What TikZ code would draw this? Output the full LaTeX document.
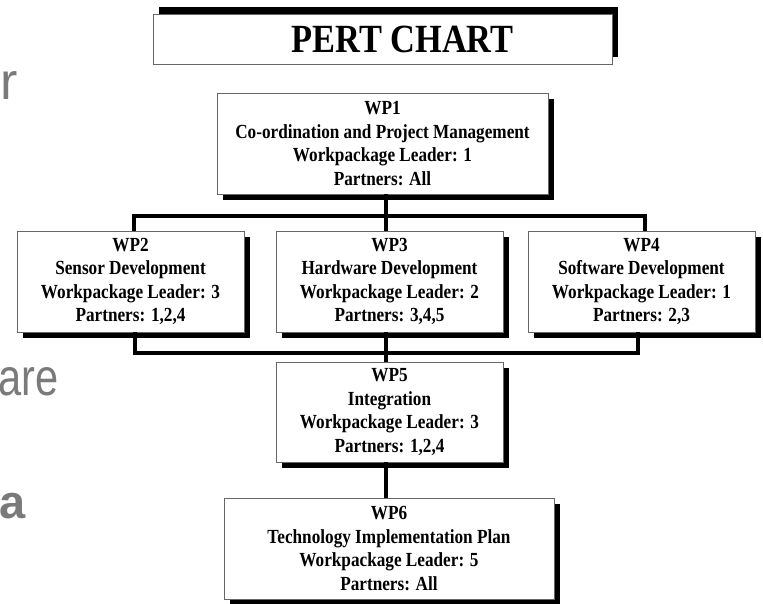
\documentclass[tikz,border=0pt]{standalone}
\usepackage{fontspec}
\setmainfont{Liberation Serif}
\newfontfamily\tnr[FakeStretch=0.86]{Liberation Serif}
\newfontfamily\bgsans{Liberation Sans}
\usetikzlibrary{shadows}
\begin{document}
\begin{tikzpicture}[x=1pt,y=-1pt,
  boxbase/.style={draw=black!60, line width=0.9pt, fill=white, align=center, inner sep=0pt,
     font={\tnr\bfseries\fontsize{20}{23.4}\selectfont}},
  wpbox/.style={boxbase, minimum width=227pt, minimum height=101pt,
     drop shadow={shadow xshift=6pt, shadow yshift=-6pt, fill=black, opacity=1}},
  widebox/.style={wpbox, minimum width=331pt},
  titlebox/.style={boxbase, minimum width=459pt, minimum height=50pt,
     drop shadow={shadow xshift=6pt, shadow yshift=7pt, fill=black, opacity=1},
     font={\tnr\bfseries\fontsize{40}{46}\selectfont}},
  conn/.style={draw=black, line width=4.5pt},
  bgtext/.style={text=black!52, inner sep=0pt, font={\bgsans\fontsize{52}{60}\selectfont}}]
\useasboundingbox (0,0) rectangle (763,603);
\clip (0,0) rectangle (763,603);

% faded text of the slide behind
\node[bgtext, anchor=base west] (bgr) at (0.5,99) {r};
\node[bgtext, anchor=base east] (bgare) at (59,395) {\scalebox{0.8}[1]{are}};
\node[bgtext, anchor=base east, font={\bgsans\bfseries\fontsize{47}{56}\selectfont}] (bga) at (26,518) {a};

% title
\node[titlebox] (title) at (382.5,39) {\hspace*{40pt}PERT CHART};

% work packages
\node[widebox] (wp1) at (382.5,143.5) {WP1\\Co-ordination and Project Management\\Workpackage Leader: 1\\Partners: All};
\node[wpbox] (wp2) at (130.5,281.5) {WP2\\Sensor Development\\Workpackage Leader: 3\\Partners: 1,2,4};
\node[wpbox] (wp3) at (389.5,281.5) {WP3\\Hardware Development\\Workpackage Leader: 2\\Partners: 3,4,5};
\node[wpbox] (wp4) at (641.5,281.5) {WP4\\Software Development\\Workpackage Leader: 1\\Partners: 2,3};
\node[wpbox, minimum height=100pt] (wp5) at (389.5,412) {WP5\\Integration\\Workpackage Leader: 3\\Partners: 1,2,4};
\node[widebox, minimum width=330pt] (wp6) at (389,548.5) {WP6\\Technology Implementation Plan\\Workpackage Leader: 5\\Partners: All};

% connectors
\coordinate (bus1) at (386,216);
\coordinate (bus2) at (386,353);
\draw[conn] ([xshift=3.5pt]wp1.south) -- (bus1);
\draw[conn] ([xshift=3.5pt]wp2.north) |- (bus1) -| ([xshift=3.5pt]wp4.north);
\draw[conn] (bus1) -- (wp3.north -| bus1);
\draw[conn] ([xshift=4.5pt]wp2.south) |- (bus2) -| ([xshift=-3.5pt]wp4.south);
\draw[conn] (wp3.south -| bus2) -- (wp5.north -| bus2);
\draw[conn] (wp5.south -| bus2) -- (wp6.north -| bus2);
\end{tikzpicture}
\end{document}
